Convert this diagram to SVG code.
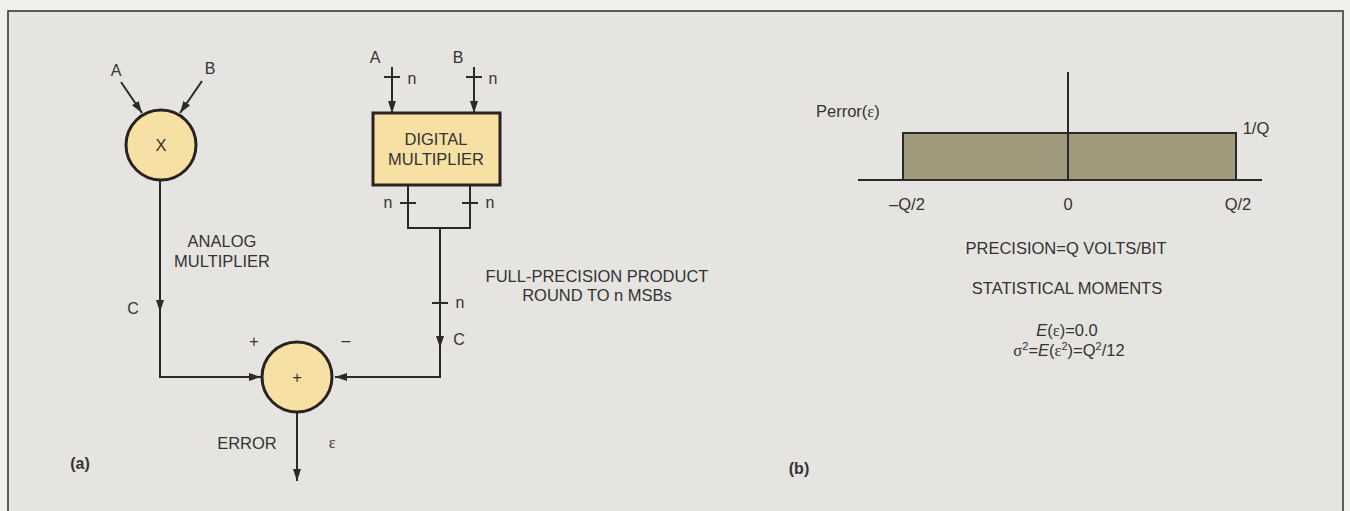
<svg xmlns="http://www.w3.org/2000/svg" width="1350" height="511" viewBox="0 0 1350 511">
<defs>
<style>
.t{font-family:"Liberation Sans",Arial,sans-serif;font-size:16.5px;fill:#333;}
.s{font-family:"Liberation Sans",Arial,sans-serif;font-size:16px;fill:#333;}
.g{font-family:"Liberation Serif","Times New Roman",serif;fill:#333;}
.b{font-family:"Liberation Sans",Arial,sans-serif;font-size:16px;font-weight:bold;fill:#333;}
.ln{fill:none;stroke:#2a2a2a;stroke-width:2;}
.node{fill:#f6e0a3;stroke:#2a2220;stroke-width:3;}
</style>
<marker id="ah" markerUnits="userSpaceOnUse" markerWidth="12" markerHeight="8" refX="12" refY="4" orient="auto">
<path d="M0,0 L12,4 L0,8 z" fill="#2a2a2a"/>
</marker>
</defs>
<rect x="0" y="0" width="1350" height="511" fill="#f1f0ec"/>
<rect x="8" y="11" width="1335" height="520" fill="#e5e4e0" stroke="#3a3a3a" stroke-width="1.6"/>

<g id="connectors">
<line class="ln" x1="121" y1="82" x2="142" y2="113" marker-end="url(#ah)"/>
<line class="ln" x1="202" y1="81" x2="180" y2="113" marker-end="url(#ah)"/>
<line class="ln" x1="160" y1="181" x2="160" y2="312" marker-end="url(#ah)"/>
<polyline class="ln" points="160,310 160,377 261,377" marker-end="url(#ah)"/>
<line class="ln" x1="392" y1="67" x2="392" y2="113" marker-end="url(#ah)"/>
<line class="ln" x1="384" y1="77" x2="400" y2="77"/>
<line class="ln" x1="474" y1="67" x2="474" y2="113" marker-end="url(#ah)"/>
<line class="ln" x1="466" y1="77" x2="482" y2="77"/>
<polyline class="ln" points="408,185 408,228 470,228 470,185"/>
<line class="ln" x1="400" y1="203" x2="416" y2="203"/>
<line class="ln" x1="462" y1="203" x2="478" y2="203"/>
<line class="ln" x1="440" y1="228" x2="440" y2="348" marker-end="url(#ah)"/>
<line class="ln" x1="432" y1="303" x2="448" y2="303"/>
<polyline class="ln" points="440,346 440,377 335,377" marker-end="url(#ah)"/>
<line class="ln" x1="297" y1="413" x2="297" y2="481" marker-end="url(#ah)"/>
</g>

<g id="analog-multiplier">
<circle class="node" cx="161" cy="145" r="35"/>
<text class="t" x="161" y="151" text-anchor="middle">X</text>
</g>
<g id="digital-multiplier">
<rect class="node" x="373" y="113" width="127" height="72"/>
<text class="t" x="436" y="145" text-anchor="middle">DIGITAL</text>
<text class="t" x="436" y="165" text-anchor="middle">MULTIPLIER</text>
</g>
<g id="summer">
<circle class="node" cx="297" cy="377" r="35"/>
<text class="t" x="297" y="383" text-anchor="middle">+</text>
</g>

<g id="labels-a">
<text class="s" x="116" y="76" text-anchor="middle">A</text>
<text class="s" x="210" y="74" text-anchor="middle">B</text>
<text class="s" x="375" y="63" text-anchor="middle">A</text>
<text class="s" x="458" y="63" text-anchor="middle">B</text>
<text class="s" x="412" y="84" text-anchor="middle">n</text>
<text class="s" x="493" y="84" text-anchor="middle">n</text>
<text class="s" x="388" y="208" text-anchor="middle">n</text>
<text class="s" x="490" y="208" text-anchor="middle">n</text>
<text class="s" x="460" y="308" text-anchor="middle">n</text>
<text class="t" x="222" y="247" text-anchor="middle">ANALOG</text>
<text class="t" x="222" y="267" text-anchor="middle">MULTIPLIER</text>
<text class="t" x="597" y="282" text-anchor="middle">FULL-PRECISION PRODUCT</text>
<text class="t" x="597" y="301" text-anchor="middle">ROUND TO n MSBs</text>
<text class="s" x="133" y="314" text-anchor="middle">C</text>
<text class="s" x="459" y="345" text-anchor="middle">C</text>
<text class="s" x="254" y="347" text-anchor="middle">+</text>
<text class="s" x="346" y="346" text-anchor="middle">–</text>
<text class="t" x="247" y="449" text-anchor="middle">ERROR</text>
<text class="g" x="332" y="448" font-size="16" text-anchor="middle">ε</text>
<text class="b" x="80" y="469" text-anchor="middle">(a)</text>
</g>

<g id="chart-b">
<rect x="903" y="133" width="333" height="47" fill="#a0997c" stroke="#2a2a2a" stroke-width="2"/>
<line class="ln" x1="858" y1="180" x2="1262" y2="180"/>
<line class="ln" x1="1068" y1="72" x2="1068" y2="180"/>
<text class="t" x="816" y="117">Perror(<tspan class="g">ε</tspan>)</text>
<text class="t" x="1256" y="134" text-anchor="middle">1/Q</text>
<text class="t" x="907" y="210" text-anchor="middle">–Q/2</text>
<text class="t" x="1068" y="210" text-anchor="middle">0</text>
<text class="t" x="1238" y="210" text-anchor="middle">Q/2</text>
<text class="t" x="1066" y="254" text-anchor="middle">PRECISION=Q VOLTS/BIT</text>
<text class="t" x="1067" y="294" text-anchor="middle">STATISTICAL MOMENTS</text>
<text class="t" x="1067" y="336" text-anchor="middle"><tspan font-style="italic">E</tspan>(<tspan class="g">ε</tspan>)=0.0</text>
<text class="t" x="1069" y="356" text-anchor="middle"><tspan class="g">σ</tspan><tspan font-size="11" dy="-6">2</tspan><tspan dy="6">=</tspan><tspan font-style="italic">E</tspan>(<tspan class="g">ε</tspan><tspan font-size="11" dy="-6">2</tspan><tspan dy="6">)=Q</tspan><tspan font-size="11" dy="-6">2</tspan><tspan dy="6">/12</tspan></text>
<text class="b" x="799" y="474" text-anchor="middle">(b)</text>
</g>
</svg>
